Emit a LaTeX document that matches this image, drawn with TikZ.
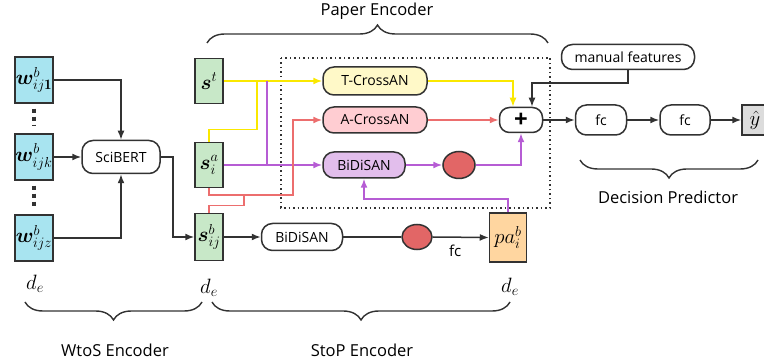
\documentclass[tikz,border=0pt]{standalone}
\usepackage{amsmath,bm}
\usepackage{fontspec}
\newfontfamily\labelfont{Open Sans}
\usetikzlibrary{arrows.meta,shapes.geometric,decorations.pathreplacing}

\definecolor{linegray}{RGB}{50,50,50}
\definecolor{wcol}{RGB}{168,228,240}
\definecolor{scol}{RGB}{200,232,200}
\definecolor{ocol}{RGB}{255,214,160}
\definecolor{gcol}{RGB}{220,220,220}
\definecolor{ycol}{RGB}{255,249,200}
\definecolor{pcol}{RGB}{255,205,210}
\definecolor{vcol}{RGB}{226,190,236}
\definecolor{yline}{RGB}{250,232,0}
\definecolor{rline}{RGB}{236,110,110}
\definecolor{vline}{RGB}{182,92,212}
\definecolor{dotred}{RGB}{226,102,102}

\tikzset{
  box/.style={draw=linegray,line width=1.5pt,inner sep=0pt},
  vec/.style={box,minimum width=38pt,minimum height=46pt,font=\huge},
  blk/.style={box,rounded corners=11pt,font=\labelfont\fontsize{14}{16}\selectfont},
  dotn/.style={box,ellipse,fill=dotred,minimum width=32pt,minimum height=27pt},
  lbl/.style={font=\labelfont\fontsize{16.5}{19}\selectfont},
  dim/.style={font=\huge},
  tip/.style={-{Latex[length=9pt,width=7pt]}},
  arr/.style={line width=1.5pt,draw=linegray,tip},
  yel/.style={line width=1.5pt,draw=yline},
  rdl/.style={line width=1.5pt,draw=rline},
  pur/.style={line width=1.5pt,draw=vline},
  dotline/.style={line width=4.5pt,draw=linegray,dash pattern=on 4pt off 4pt},
  brc/.style={decorate,decoration={brace,amplitude=18pt},line width=1.4pt,draw=linegray}
}

\begin{document}
\begin{tikzpicture}[x=1pt,y=-1pt]
\useasboundingbox (0,0) rectangle (764,363);

% WtoS encoder
\node[vec,fill=wcol] (w1) at (34,80) {$\bm{w}^{b}_{ij\mathbf{1}}$};
\node[vec,fill=wcol] (w2) at (34,157) {$\bm{w}^{b}_{ijk}$};
\node[vec,fill=wcol] (w3) at (34,238) {$\bm{w}^{b}_{ijz}$};
\draw[dotline,shorten <=5pt,shorten >=7pt] (w1.south) -- (w2.north);
\draw[dotline,shorten <=5pt,shorten >=7pt] (w2.south) -- (w3.north);
\node[dim] (de1) at (35,284) {$d_e$};

\node[blk,minimum width=78pt,minimum height=33pt] (sci) at (121,157) {SciBERT};

\draw[arr] (w1.east) -| (sci.north);
\draw[arr] (w2) -- (sci);
\draw[arr] (w3.east) -| (sci.south);

% sentence vectors
\node[vec,fill=scol,minimum width=28pt,minimum height=45pt] (st) at (209,81) {$\bm{s}^{t}$};
\node[vec,fill=scol,minimum width=28pt,minimum height=45pt] (sa) at (209,165) {$\bm{s}^{a}_{i}$};
\node[vec,fill=scol,minimum width=28pt,minimum height=47pt] (sb) at (209,237) {$\bm{s}^{b}_{ij}$};
\node[dim] (de2) at (209,288) {$d_e$};

\draw[arr] (sci.east) -- ++(12,0) |- (sb.west);

% paper encoder
\draw[linegray,line width=1.5pt,dash pattern=on 1.5pt off 3pt] (281,58) rectangle (550,208);

\node[blk,fill=ycol,minimum width=104pt,minimum height=28pt] (tcr) at (375,81) {T-CrossAN};
\node[blk,fill=pcol,minimum width=104pt,minimum height=26pt] (acr) at (375,120) {A-CrossAN};
\node[blk,fill=vcol,minimum width=82pt,minimum height=26pt] (bds) at (364,165) {BiDiSAN};
\node[dotn] (c1) at (459,165) {};
\node[blk,rounded corners=10pt,minimum width=43pt,minimum height=25pt,font=\labelfont\bfseries\fontsize{24}{24}\selectfont] (plus) at (521,120) {+};

\node[blk,minimum width=81pt,minimum height=27pt] (bds2) at (302,237) {BiDiSAN};
\node[dotn,minimum width=30pt,minimum height=25pt] (c2) at (417,237) {};
\node[vec,fill=ocol,minimum width=37pt,minimum height=49pt] (pa) at (508,237.5) {$pa^{b}_{i}$};
\node[dim] (de3) at (510,287) {$d_e$};

\coordinate (yj) at (257,81);
\coordinate (pj) at (267,81);
\coordinate (rj) at (293,120);
\coordinate (rk) at (244,194);

\draw[yel] (sa.north) -- ++(0,-12) -| (yj);
\draw[yel,tip] (st.east) -- (tcr.west);
\draw[pur] (pj) -- (pj |- sa.east);
\draw[pur,tip] (sa.east) -- (bds.west);
\draw[rdl,tip] (sa.south) -- ++(0,7) -| (rj) -- (acr.west);
\draw[rdl] (sb.north) -- ++(0,-7) -| (rk);

\draw[yel,tip] (tcr.east) -| ([xshift=-8pt]plus.north);
\draw[rdl,tip] (acr.east) -- (plus.west);
\draw[pur,tip] (bds.east) -- (c1.west);
\draw[pur,tip] (c1.east) -| (plus.south);
\draw[pur,tip] (pa.north) -- ++(0,-13) -| (bds.south);

\draw[arr] (sb.east) -- (bds2.west);
\draw[line width=1.5pt,draw=linegray] (bds2.east) -- (c2.west);
\draw[arr] (c2.east) -- node[pos=0.4,below=4pt,font=\labelfont\fontsize{15}{17}\selectfont] (fclab) {fc} (pa.west);

% decision predictor
\node[blk,minimum width=133pt,minimum height=25pt] (man) at (628,57) {manual features};
\node[blk,minimum width=51pt,minimum height=30pt] (fc1) at (601,120) {fc};
\node[blk,minimum width=50pt,minimum height=30pt] (fc2) at (685,120) {fc};
\node[vec,fill=gcol,minimum width=26pt,minimum height=30pt] (yh) at (755,120) {$\hat{y}$};

\draw[arr] (man.south) -- ++(0,13) -| ([xshift=11pt]plus.north);
\draw[arr] (plus) -- (fc1);
\draw[arr] (fc1) -- (fc2);
\draw[arr] (fc2) -- (yh);

% braces
\draw[brc] (207,43) -- (548,43);
\node[lbl] (pe) at (377,11) {Paper Encoder};
\draw[brc] (758,160) -- (580,160);
\node[lbl] (dp) at (668,197) {Decision Predictor};
\draw[brc] (202,302) -- (25,302);
\node[lbl] (we) at (115,350) {WtoS Encoder};
\draw[brc] (510,302) -- (212,302);
\node[lbl] (se) at (362,350) {StoP Encoder};

\end{tikzpicture}
\end{document}
